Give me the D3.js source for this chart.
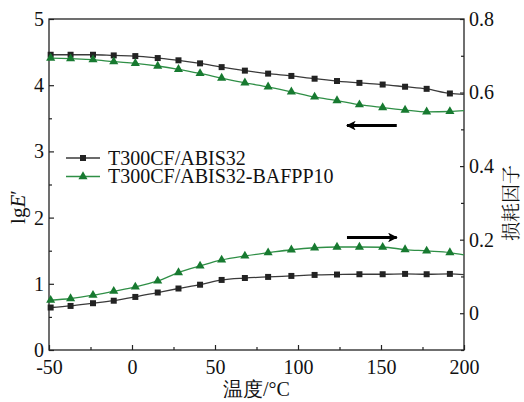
<!DOCTYPE html>
<html>
<head>
<meta charset="utf-8">
<script src="https://cdn.jsdelivr.net/npm/d3@7/dist/d3.min.js"></script>
<style>
  html, body { margin: 0; padding: 0; background: #fff; }
  svg { display: block; }
  text { font-family: "Liberation Serif", "Times New Roman", serif; fill: #111; }
</style>
</head>
<body>
<svg id="chart" width="524" height="402"></svg>
<script>
// Temperatures (°C) of the sampled points; the last entry closes the line at the axis edge
const temps = [-49, -37, -23.5, -11, 2, 15.5, 28, 41, 54, 68, 82, 96, 110, 123.5, 137, 151, 164.5, 177.5, 191.5, 200];

// Storage modulus, lg E′ (left axis)
const modulusPlain = [4.46, 4.46, 4.46, 4.45, 4.44, 4.41, 4.376, 4.33, 4.273, 4.22, 4.175, 4.14, 4.098, 4.063, 4.035, 4.01, 3.977, 3.945, 3.875, 3.86];
const modulusBafpp = [4.41, 4.40, 4.385, 4.355, 4.33, 4.29, 4.24, 4.177, 4.107, 4.035, 3.975, 3.90, 3.822, 3.768, 3.705, 3.662, 3.625, 3.597, 3.603, 3.615];

// Loss factor, tan δ (right axis)
const lossPlain = [0.0155, 0.0198, 0.0272, 0.034, 0.0443, 0.0563, 0.0672, 0.0775, 0.0905, 0.0957, 0.0987, 0.1014, 0.1041, 0.1052, 0.106, 0.106, 0.1069, 0.106, 0.1069, 0.105];
const lossBafpp = [0.0353, 0.040, 0.049, 0.0598, 0.0715, 0.0878, 0.1106, 0.1286, 0.1449, 0.1558, 0.1645, 0.1726, 0.178, 0.180, 0.180, 0.1794, 0.1732, 0.1694, 0.165, 0.1585];

const seriesNames = ["T300CF/ABIS32", "T300CF/ABIS32-BAFPP10"];

const xTicks = [-50, 0, 50, 100, 150, 200];
const xMinor = [-25, 25, 75, 125, 175];
const leftTicks = [0, 1, 2, 3, 4, 5];
const leftMinor = [0.5, 1.5, 2.5, 3.5, 4.5];
const rightTicks = [0, 0.2, 0.4, 0.6, 0.8];
const rightMinor = [-0.1, 0.1, 0.3, 0.5, 0.7];

const svg = d3.select("#chart");
const L = 49, R = 464, T = 19, B = 350;

const x = d3.scaleLinear().domain([-50, 200]).range([L, R]);
const yL = d3.scaleLinear().domain([0, 5]).range([B, T]);
const yR = d3.scaleLinear().domain([-0.1, 0.8]).range([B, T]);

const black = "#232323", blackLine = "#3a3a3a";
const green = "#177a30", greenLine = "#2f8f46";

const styleAxis = g => {
  g.select(".domain").remove();
  g.selectAll(".tick line").attr("stroke", "#222").attr("stroke-width", 1.2);
  g.selectAll("text").style("font-size", "20px").attr("fill", "#111");
};

// Major and minor ticks, pointing into the plot
svg.append("g").attr("transform", `translate(0,${B})`)
  .call(d3.axisBottom(x).tickValues(xTicks).tickSize(-5).tickPadding(10).tickFormat(d => String(d)))
  .call(styleAxis);
svg.append("g").attr("transform", `translate(0,${B})`)
  .call(d3.axisBottom(x).tickValues(xMinor).tickSize(-3).tickFormat(""))
  .call(styleAxis);

svg.append("g").attr("transform", `translate(${L},0)`)
  .call(d3.axisLeft(yL).tickValues(leftTicks).tickSize(-5).tickPadding(5).tickFormat(d => String(d)))
  .call(styleAxis);
svg.append("g").attr("transform", `translate(${L},0)`)
  .call(d3.axisLeft(yL).tickValues(leftMinor).tickSize(-3).tickFormat(""))
  .call(styleAxis);

svg.append("g").attr("transform", `translate(${R},0)`)
  .call(d3.axisRight(yR).tickValues(rightTicks).tickSize(-4).tickPadding(5).tickFormat(d => d === 0 ? "0" : d3.format(".1f")(d)))
  .call(styleAxis);
svg.append("g").attr("transform", `translate(${R},0)`)
  .call(d3.axisRight(yR).tickValues(rightMinor).tickSize(-3).tickFormat(""))
  .call(styleAxis);

// Plot frame
svg.append("rect").attr("x", L).attr("y", T).attr("width", R - L).attr("height", B - T)
  .attr("fill", "none").attr("stroke", "#222").attr("stroke-width", 1.3);

const sq = d3.symbol().type(d3.symbolSquare).size(36);
const tri = d3.symbol().type(d3.symbolTriangle).size(36);

function drawSeries(values, yScale, lineColor, markColor, symbol) {
  const pts = temps.map((t, i) => [x(t), yScale(values[i])]);
  svg.append("path")
    .attr("d", d3.line().curve(d3.curveMonotoneX)(pts))
    .attr("fill", "none").attr("stroke", lineColor).attr("stroke-width", 1.3);
  svg.append("g").selectAll("path")
    .data(pts.slice(0, pts.length - 1))
    .join("path")
    .attr("transform", d => `translate(${d[0]},${d[1]})`)
    .attr("d", symbol())
    .attr("fill", markColor);
}

drawSeries(modulusPlain, yL, blackLine, black, sq);
drawSeries(modulusBafpp, yL, greenLine, green, tri);
drawSeries(lossPlain, yR, blackLine, black, sq);
drawSeries(lossBafpp, yR, greenLine, green, tri);

// Arrows pointing to the axis each pair of curves belongs to
svg.append("defs").append("marker")
  .attr("id", "head").attr("viewBox", "0 0 10 10")
  .attr("refX", 9).attr("refY", 5)
  .attr("markerWidth", 3.2).attr("markerHeight", 3.2)
  .attr("markerUnits", "strokeWidth").attr("orient", "auto")
  .append("path").attr("d", "M0,0 L10,5 L0,10 L2.5,5 Z").attr("fill", "#000");

svg.append("line")
  .attr("x1", x(159.5)).attr("y1", yL(3.39)).attr("x2", x(129.5)).attr("y2", yL(3.39))
  .attr("stroke", "#000").attr("stroke-width", 3).attr("marker-end", "url(#head)");
svg.append("line")
  .attr("x1", x(129.5)).attr("y1", yL(1.70)).attr("x2", x(159.5)).attr("y2", yL(1.70))
  .attr("stroke", "#000").attr("stroke-width", 3).attr("marker-end", "url(#head)");

// Legend
const legend = svg.append("g");
[[black, blackLine, sq], [green, greenLine, tri]].forEach(([mc, lc, sym], i) => {
  const yy = 158 + i * 18.5;
  legend.append("line").attr("x1", 66).attr("x2", 100).attr("y1", yy).attr("y2", yy)
    .attr("stroke", lc).attr("stroke-width", 1.3);
  legend.append("path").attr("transform", `translate(83,${yy})`).attr("d", sym()).attr("fill", mc);
  legend.append("text").attr("x", 108).attr("y", yy + 6.5)
    .style("font-size", "20px").text(seriesNames[i]);
});

// Axis titles
svg.append("text").attr("x", (L + R) / 2).attr("y", 396)
  .attr("text-anchor", "middle").style("font-size", "20px")
  .text("温度/°C");

const ylab = svg.append("text")
  .attr("transform", "translate(25,207) rotate(-90)")
  .attr("text-anchor", "middle").style("font-size", "21px");
ylab.append("tspan").text("lg");
ylab.append("tspan").style("font-style", "italic").text("E");
ylab.append("tspan").text("′");

svg.append("text")
  .attr("transform", "translate(518,203) rotate(-90)")
  .attr("text-anchor", "middle")
  .style("font-size", "19px")
  .style("font-family", "'Noto Serif CJK SC', 'Noto Sans CJK SC', serif")
  .text("损耗因子");
</script>
</body>
</html>
